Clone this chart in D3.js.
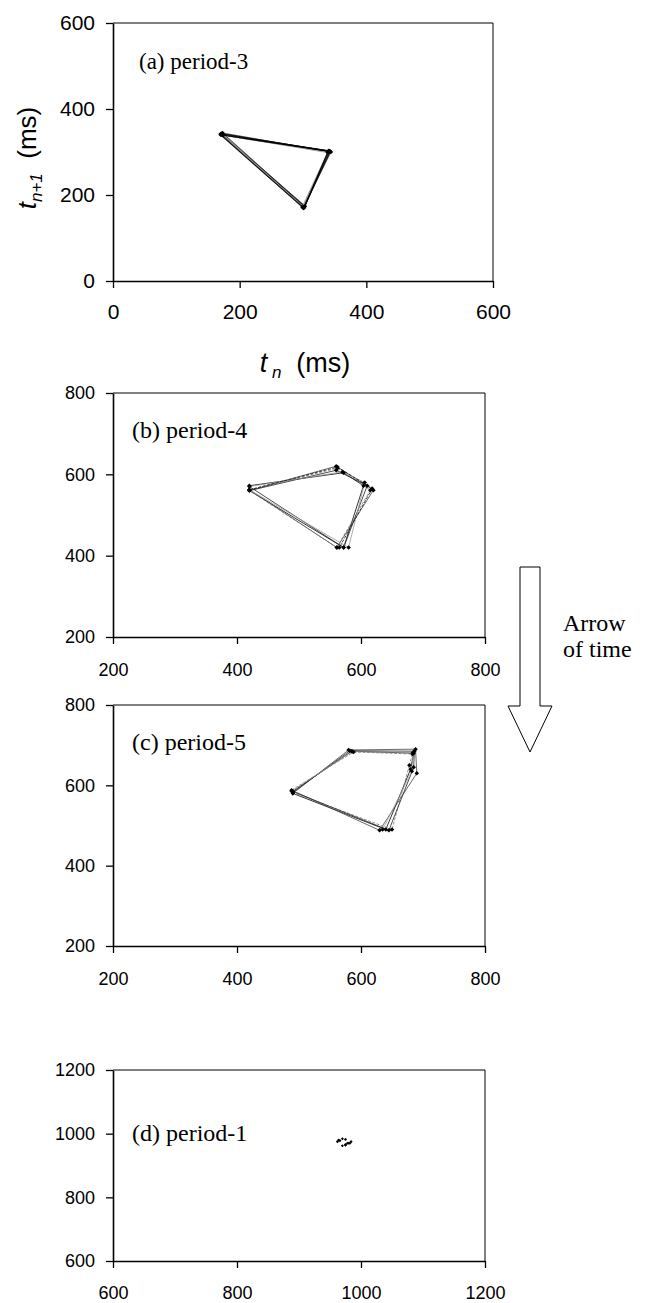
<!DOCTYPE html>
<html><head><meta charset="utf-8">
<script src="https://cdn.jsdelivr.net/npm/d3@7"></script>
<style>body{margin:0;background:#fff}svg{display:block}</style>
</head><body>
<script>
// ---- data: successive interval sequences t_n (ms); return map plots (t_n, t_{n+1})
const intervalsA = [172, 340, 301, 170, 342, 302, 173, 344, 300, 171, 341, 303, 174, 339, 299, 172, 343, 301, 170, 340, 302, 172];
const intervalsB = [420, 572, 604, 572, 420, 560, 620, 561, 420, 562, 615, 561, 420, 560, 610, 572, 420, 570, 606, 580, 420, 562, 618, 565, 420];
const intervalsC = [490, 585, 685, 680, 640, 490, 580, 688, 690, 630, 488, 588, 683, 678, 650, 490, 582, 686, 685, 645, 488, 586, 684, 682, 635, 490];
const intervalsD = [975, 964, 980, 970, 984, 975, 966, 978, 970, 962, 975, 982, 970];
const ticksA = [0, 200, 400, 600];
const ticksB = [200, 400, 600, 800];
const ticksC = [200, 400, 600, 800];
const ticksD = [600, 800, 1000, 1200];
const panelLabels = ["(a) period-3", "(b) period-4", "(c) period-5", "(d) period-1"];
const periods = [3, 4, 5, 1];

// ---- layout
const layout = [
  {x0:113, x1:493, y0:23,   y1:281,  tickFont:21, labelFont:23, lx:139, ly:69,   xlab:31},
  {x0:113, x1:485, y0:393,  y1:637,  tickFont:18, labelFont:24, lx:132, ly:438,  xlab:33},
  {x0:113, x1:485, y0:705,  y1:946,  tickFont:18, labelFont:24, lx:132, ly:750,  xlab:33},
  {x0:113, x1:485, y0:1070, y1:1261, tickFont:18, labelFont:24, lx:132, ly:1141, xlab:32}
];
const seqs = [intervalsA, intervalsB, intervalsC, intervalsD];
const tickSets = [ticksA, ticksB, ticksC, ticksD];

const SANS = "'Liberation Sans', Arial, sans-serif";
const SERIF = "'Liberation Serif', 'Times New Roman', serif";
const svg = d3.select('body').append('svg').attr('width', 655).attr('height', 1303);
const shades = ['#000', '#444', '#777', '#222', '#999', '#111'];

layout.forEach((L, i) => {
  const ticks = tickSets[i];
  const dom = [ticks[0], ticks[ticks.length - 1]];
  const x = d3.scaleLinear().domain(dom).range([L.x0, L.x1]);
  const y = d3.scaleLinear().domain(dom).range([L.y1, L.y0]);
  const g = svg.append('g');

  // border (top & right)
  g.append('path')
    .attr('d', `M${L.x0},${L.y0}H${L.x1}V${L.y1}`)
    .attr('fill', 'none').attr('stroke', '#000').attr('stroke-width', 1);

  const ax = g.append('g').attr('transform', `translate(0,${L.y1})`)
    .call(d3.axisBottom(x).tickValues(ticks).tickSize(7).tickSizeOuter(0).tickFormat(d3.format('d')));
  ax.selectAll('text').attr('y', L.xlab).attr('dy', '0.35em');
  const ay = g.append('g').attr('transform', `translate(${L.x0},0)`)
    .call(d3.axisLeft(y).tickValues(ticks).tickSize(7).tickSizeOuter(0).tickPadding(11).tickFormat(d3.format('d')));
  [ax, ay].forEach(a => {
    a.select('.domain').attr('stroke-width', 1.6);
    a.selectAll('.tick line').attr('stroke-width', 1.3);
    a.selectAll('text').attr('font-family', SANS).attr('font-size', L.tickFont).attr('fill', '#000');
  });

  // return map points
  const seq = seqs[i];
  const pts = d3.pairs(seq).map(([a, b]) => ({xv: a, yv: b}));
  const per = periods[i];
  if (per > 1) {
    for (let k = 0; k < pts.length - 1; k++) {
      const cyc = Math.floor(k / per);
      g.append('line')
        .attr('x1', x(pts[k].xv)).attr('y1', y(pts[k].yv))
        .attr('x2', x(pts[k+1].xv)).attr('y2', y(pts[k+1].yv))
        .attr('stroke', shades[cyc % shades.length])
        .attr('stroke-width', i === 0 ? 1.1 : 0.8)
        .attr('stroke-dasharray', (i > 0 && cyc % 3 === 2) ? '3,1.5' : null);
    }
  }
  const ms = per > 1 ? 1.6 : 1.1;
  g.selectAll('rect.pt').data(pts).join('rect').attr('class', 'pt')
    .attr('x', d => x(d.xv) - ms).attr('y', d => y(d.yv) - ms)
    .attr('width', 2 * ms).attr('height', 2 * ms)
    .attr('transform', d => `rotate(45,${x(d.xv)},${y(d.yv)})`)
    .attr('fill', '#000');

  g.append('text').attr('x', L.lx).attr('y', L.ly)
    .attr('font-family', SERIF).attr('font-size', L.labelFont).attr('fill', '#000')
    .text(panelLabels[i]);
});

// axis titles
const yt = svg.append('text')
  .attr('transform', 'translate(36,158) rotate(-90)')
  .attr('text-anchor', 'middle')
  .attr('font-family', SANS).attr('font-size', 26).attr('fill', '#000');
yt.append('tspan').attr('font-style', 'italic').text('t');
yt.append('tspan').attr('font-style', 'italic').attr('font-size', 17).attr('dy', 6).text('n+1');
yt.append('tspan').attr('dy', -6).text('\u00a0\u00a0(ms)');

const xt = svg.append('text')
  .attr('x', 305).attr('y', 372)
  .attr('text-anchor', 'middle')
  .attr('font-family', SANS).attr('font-size', 27).attr('fill', '#000');
xt.append('tspan').attr('font-style', 'italic').text('t');
xt.append('tspan').attr('font-style', 'italic').attr('font-size', 17).attr('dy', 6).text('\u00a0n');
xt.append('tspan').attr('dy', -6).text('\u00a0\u00a0(ms)');

// arrow of time
svg.append('path')
  .attr('d', 'M520,567L540,567L540,706L552,706L530,752L508,706L520,706Z')
  .attr('fill', '#fff').attr('stroke', '#000').attr('stroke-width', 1);
svg.append('text').attr('x', 563).attr('y', 631)
  .attr('font-family', SERIF).attr('font-size', 24).attr('fill', '#000').text('Arrow');
svg.append('text').attr('x', 563).attr('y', 657)
  .attr('font-family', SERIF).attr('font-size', 24).attr('fill', '#000').text('of time');
</script>
</body></html>
